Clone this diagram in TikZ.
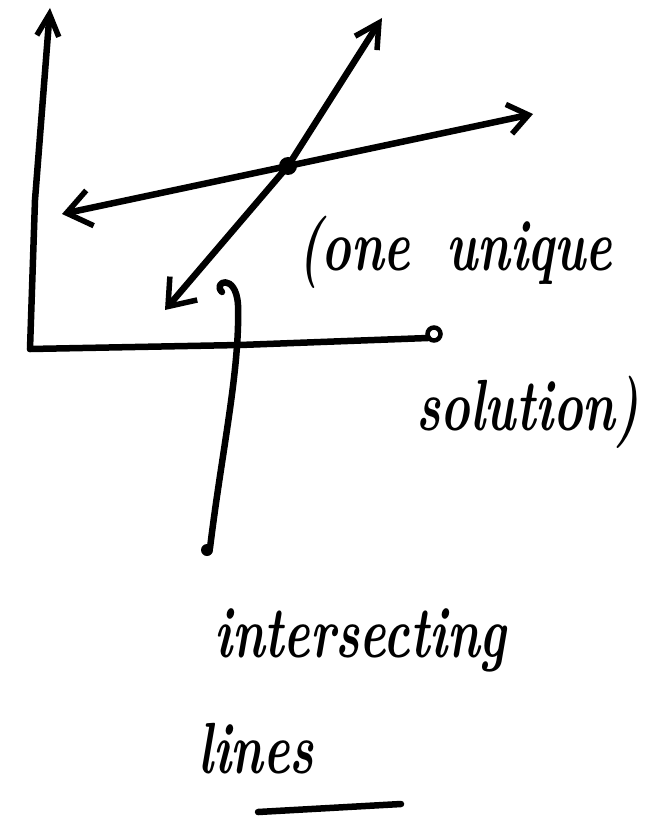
\documentclass[tikz,border=0pt]{standalone}
\usetikzlibrary{arrows.meta}
\tikzset{
  ink/.style={line width=6.5pt, line cap=round, line join=round, black},
  hand/.style={font=\fontsize{50}{56}\selectfont\bfseries\itshape, inner sep=0pt, anchor=base west},
}
\newcommand{\tallt}[1]{\scalebox{1}[1.45]{#1}}
\begin{document}
\begin{tikzpicture}[x=1pt,y=-1pt]
\useasboundingbox (0,0) rectangle (658,818);
% points
\coordinate (O) at (30,349);
\coordinate (yT) at (50,8);
\coordinate (xE) at (428,338);
\coordinate (A1) at (62,214);
\coordinate (A2) at (533,114);
\coordinate (B1) at (165,310);
\coordinate (B2) at (382,18);
\coordinate (P) at (288,166);
\coordinate (hk) at (222,292);
\coordinate (pe) at (210,548);
% axes
\draw[ink, -{Straight Barb[length=22pt,width=22pt,line width=5.5pt]}] (O) -- (35,200) -- (yT);
\draw[ink] (O) -- (240,345) -- (xE);
\node[draw, line width=4.5pt, circle, minimum size=13pt, inner sep=0pt] (xc) at (434,334) {};
% lines
\draw[ink, {Straight Barb[length=24pt,width=36pt,line width=5.5pt]}-{Straight Barb[length=20pt,width=30pt,line width=5.5pt]}] (A1) -- (P) -- (A2);
\draw[ink, {Straight Barb[length=24pt,width=36pt,line width=5.5pt]}-{Straight Barb[length=24pt,width=26pt,line width=5.5pt]}] (B1) -- (P) -- (B2);
\fill (P) circle (9pt);
% pointer
\draw[ink] (hk) .. controls (212,282) and (236,272) .. (238,305)
  .. controls (240,370) and (222,450) .. (pe);
\fill (pe) ++(-3,2) circle (6pt);
% texts
\node[hand] (t1) at (298,270) {\tallt{(one\hspace{36pt}unique}};
\node[hand] (t2) at (416,430) {\tallt{solution)}};
\node[hand] (t3) at (214,657) {\tallt{intersecting}};
\node[hand] (t4) at (198,773) {\tallt{lines}};
\coordinate (u1) at (258,812);
\coordinate (u2) at (401,804);
\draw[ink] (u1) -- (u2);
\end{tikzpicture}
\end{document}
